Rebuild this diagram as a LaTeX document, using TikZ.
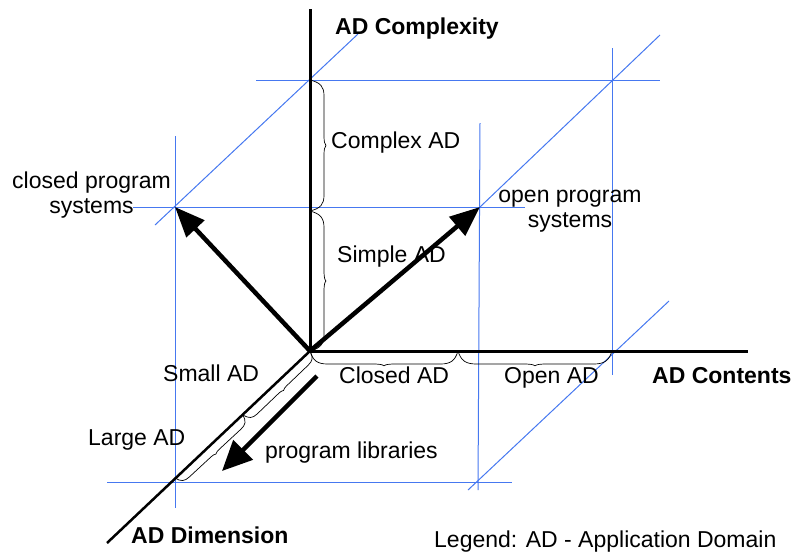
\documentclass[tikz,border=0pt]{standalone}
\usepackage{fontspec}
\setmainfont{Liberation Sans}
\usetikzlibrary{arrows.meta}
\definecolor{gridblue}{RGB}{70,120,240}
% curly bracket: start point, direction angle, length, bulge
\newcommand\adbrace[4]{%
  \begin{scope}[shift={#1},rotate=#2]
    \draw[bracestyle] (0,0) .. controls ({0.02*#3},{0.75*#4}) and ({0.05*#3},{#4}) .. ({0.12*#3},{#4})
      -- ({0.42*#3},{#4}) .. controls ({0.47*#3},{#4}) and ({0.49*#3},{1.04*#4}) .. ({0.5*#3},{1.14*#4})
      .. controls ({0.51*#3},{1.04*#4}) and ({0.53*#3},{#4}) .. ({0.58*#3},{#4})
      -- ({0.88*#3},{#4}) .. controls ({0.95*#3},{#4}) and ({0.98*#3},{0.75*#4}) .. ({#3},0);
  \end{scope}}
\begin{document}
\begin{tikzpicture}[x=1pt,y=-1pt,
  axis/.style={line width=3pt},
  gridline/.style={gridblue,line width=1pt},
  bigarrow/.style={line width=4.5pt,-{Triangle[length=30pt,width=24pt]}},
  bracestyle/.style={black,line width=0.7pt},
  lbl/.style={inner sep=0pt,anchor=base west,font=\fontsize{23}{25}\selectfont},
  blbl/.style={lbl,font=\fontsize{23}{25}\selectfont\bfseries},
  twoline/.style={inner sep=0pt,anchor=base,align=center,font=\fontsize{23}{25}\selectfont}]
\useasboundingbox (0,0) rectangle (798,555);

% key points
\coordinate (O) at (310,351);
\coordinate (ctop) at (310,9);
\coordinate (cend) at (748,351);
\coordinate (dend) at (107,543);
\coordinate (cps) at (175,207);
\coordinate (ops) at (480,207);
\coordinate (plA) at (317,376);
\coordinate (plB) at (222,471);
\coordinate (cx) at (310,80);
\coordinate (cs) at (310,211);
\coordinate (co) at (458,351);
\coordinate (oe) at (612,351);
\coordinate (dm) at (243,415);
\coordinate (de) at (175,478);

% blue construction lines
\draw[gridline] (256,80) -- (660,80);
\draw[gridline] (133,207) -- (525,207);
\draw[gridline] (107,482) -- (512,482);
\draw[gridline] (175,136) -- (175,508);
\draw[gridline] (480,123) -- (478,490);
\draw[gridline] (612,48) -- (612,375);
\draw[gridline] (155,225) -- (358,34);
\draw[gridline] (480,207) -- (660,35);
\draw[gridline] (468,490) -- (669,301);

% brackets along the axes
\adbrace{(cx)}{-90}{131}{-14}
\adbrace{(cs)}{-90}{140}{-14}
\adbrace{(O)}{0}{148}{13}
\adbrace{(co)}{0}{154}{13}
\adbrace{(O)}{-136.3}{92.7}{-9}
\adbrace{(dm)}{-137.2}{92.7}{-9}

% axes
\draw[axis] (O) -- (ctop);
\draw[axis] (O) -- (cend);
\draw[line width=2.5pt] (O) -- (dend);

% thick arrows
\draw[bigarrow] (O) -- (cps);
\draw[bigarrow] (O) -- (ops);
\draw[bigarrow,-{Triangle[length=30pt,width=27pt]}] (plA) -- (plB);

% labels
\node[blbl] (tcx) at (335,34) {AD Complexity};
\node[lbl] (tcomplex) at (331,148) {Complex AD};
\node[lbl] (tsimple) at (337,262) {Simple AD};
\node[twoline] (tcps) at (91.5,213) {closed program\\systems};
\node[twoline] (tops) at (570,227) {open program\\systems};
\node[lbl] (tclosed) at (339,383) {Closed AD};
\node[lbl] (topen) at (504,383) {Open AD};
\node[blbl] (tcont) at (652,383) {AD Contents};
\node[lbl] (tsmall) at (163,381) {Small AD};
\node[lbl] (tlarge) at (88,445) {Large AD};
\node[lbl] (tlib) at (265,458) {program libraries};
\node[blbl] (tdim) at (131,543) {AD Dimension};
\node[lbl] (tleg) at (434,547) {Legend: AD - Application Domain};
\end{tikzpicture}
\end{document}
